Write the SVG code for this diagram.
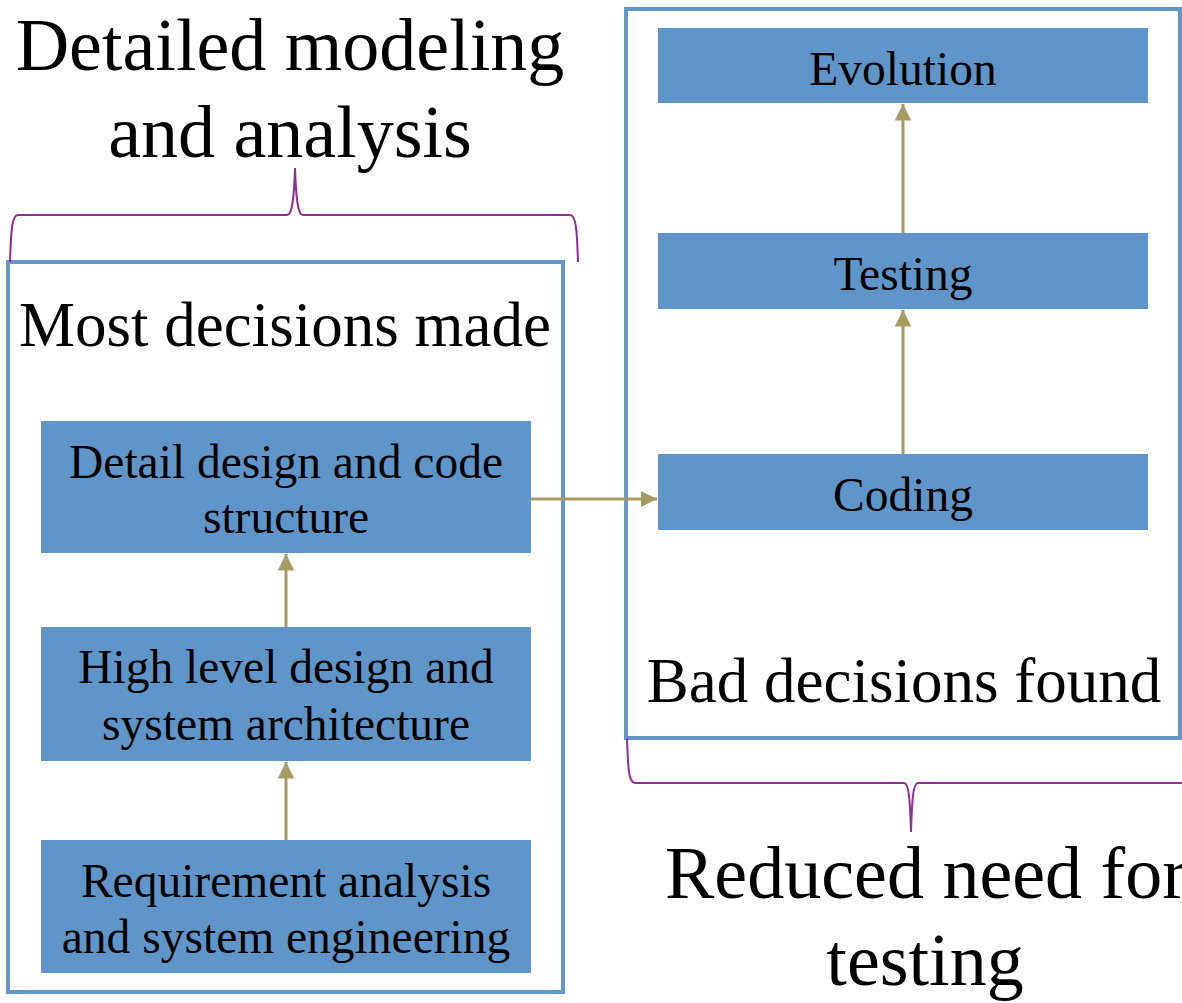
<svg xmlns="http://www.w3.org/2000/svg" width="1182" height="1003" viewBox="0 0 1182 1003">
  <defs>
    <style>
      .frame { fill: none; stroke: #6496c8; stroke-width: 4; }
      .node rect { fill: #6095c9; }
      .node text { font-family: "Liberation Serif", "Times New Roman", serif; font-size: 47.5px; fill: #000; text-anchor: middle; }
      .label { font-family: "Liberation Serif", "Times New Roman", serif; fill: #000; }
      .big { font-size: 74px; }
      .mid { font-size: 63px; }
      .edge { stroke: #a59a62; stroke-width: 3; fill: none; marker-end: url(#head); }
      .brace { fill: none; stroke: #922d98; stroke-width: 2; }
    </style>
    <marker id="head" viewBox="0 0 10 10" refX="10" refY="5" markerWidth="5.5" markerHeight="5.5" orient="auto" markerUnits="strokeWidth">
      <path d="M0,0 L10,5 L0,10 z" fill="#a59a62"/>
    </marker>
  </defs>
  <rect width="1182" height="1003" fill="#ffffff"/>

  <!-- phase frames -->
  <g id="frame-left"><rect class="frame" x="8" y="262" width="555" height="730"/></g>
  <g id="frame-right"><rect class="frame" x="626" y="9" width="554" height="729"/></g>

  <!-- braces -->
  <g id="brace-top"><path class="brace" d="M10,262 C11,230 12,215 18,215 L287,215 C292,215 294,200 295,168 C296,200 298,215 303,215 L570,215 C576,215 577,230 578,262"/></g>
  <g id="brace-bottom"><path class="brace" d="M627,738 C628,770 629,783 635,783 L904,783 C909,783 910,800 911,832 C912,800 913,783 918,783 L1182,783"/></g>

  <!-- headings -->
  <g id="label-modeling">
    <text class="label big" x="290" y="70" text-anchor="middle">Detailed modeling</text>
    <text class="label big" x="290" y="157" text-anchor="middle">and analysis</text>
  </g>
  <g id="label-most"><text class="label mid" x="285" y="346" text-anchor="middle">Most decisions made</text></g>
  <g id="label-bad"><text class="label mid" x="904" y="702" text-anchor="middle">Bad decisions found</text></g>
  <g id="label-reduced">
    <text class="label big" x="665" y="898">Reduced need for</text>
    <text class="label big" x="925" y="985" text-anchor="middle">testing</text>
  </g>

  <!-- process steps -->
  <g id="node-detail" class="node">
    <rect x="41" y="421" width="490" height="132"/>
    <text x="286" y="478">Detail design and code</text>
    <text x="286" y="533">structure</text>
  </g>
  <g id="node-highlevel" class="node">
    <rect x="41" y="627" width="490" height="134"/>
    <text x="286" y="683">High level design and</text>
    <text x="286" y="740">system architecture</text>
  </g>
  <g id="node-requirement" class="node">
    <rect x="41" y="840" width="490" height="133"/>
    <text x="286" y="897">Requirement analysis</text>
    <text x="286" y="953">and system engineering</text>
  </g>
  <g id="node-evolution" class="node">
    <rect x="658" y="28" width="490" height="75"/>
    <text x="903" y="85">Evolution</text>
  </g>
  <g id="node-testing" class="node">
    <rect x="658" y="233" width="490" height="76"/>
    <text x="903" y="290">Testing</text>
  </g>
  <g id="node-coding" class="node">
    <rect x="658" y="454" width="490" height="76"/>
    <text x="903" y="511">Coding</text>
  </g>

  <!-- connectors -->
  <g id="connectors">
    <line class="edge" x1="286" y1="840" x2="286" y2="762"/>
    <line class="edge" x1="286" y1="627" x2="286" y2="554"/>
    <line class="edge" x1="531" y1="499" x2="657" y2="499"/>
    <line class="edge" x1="903" y1="454" x2="903" y2="310"/>
    <line class="edge" x1="903" y1="233" x2="903" y2="104"/>
  </g>
</svg>
